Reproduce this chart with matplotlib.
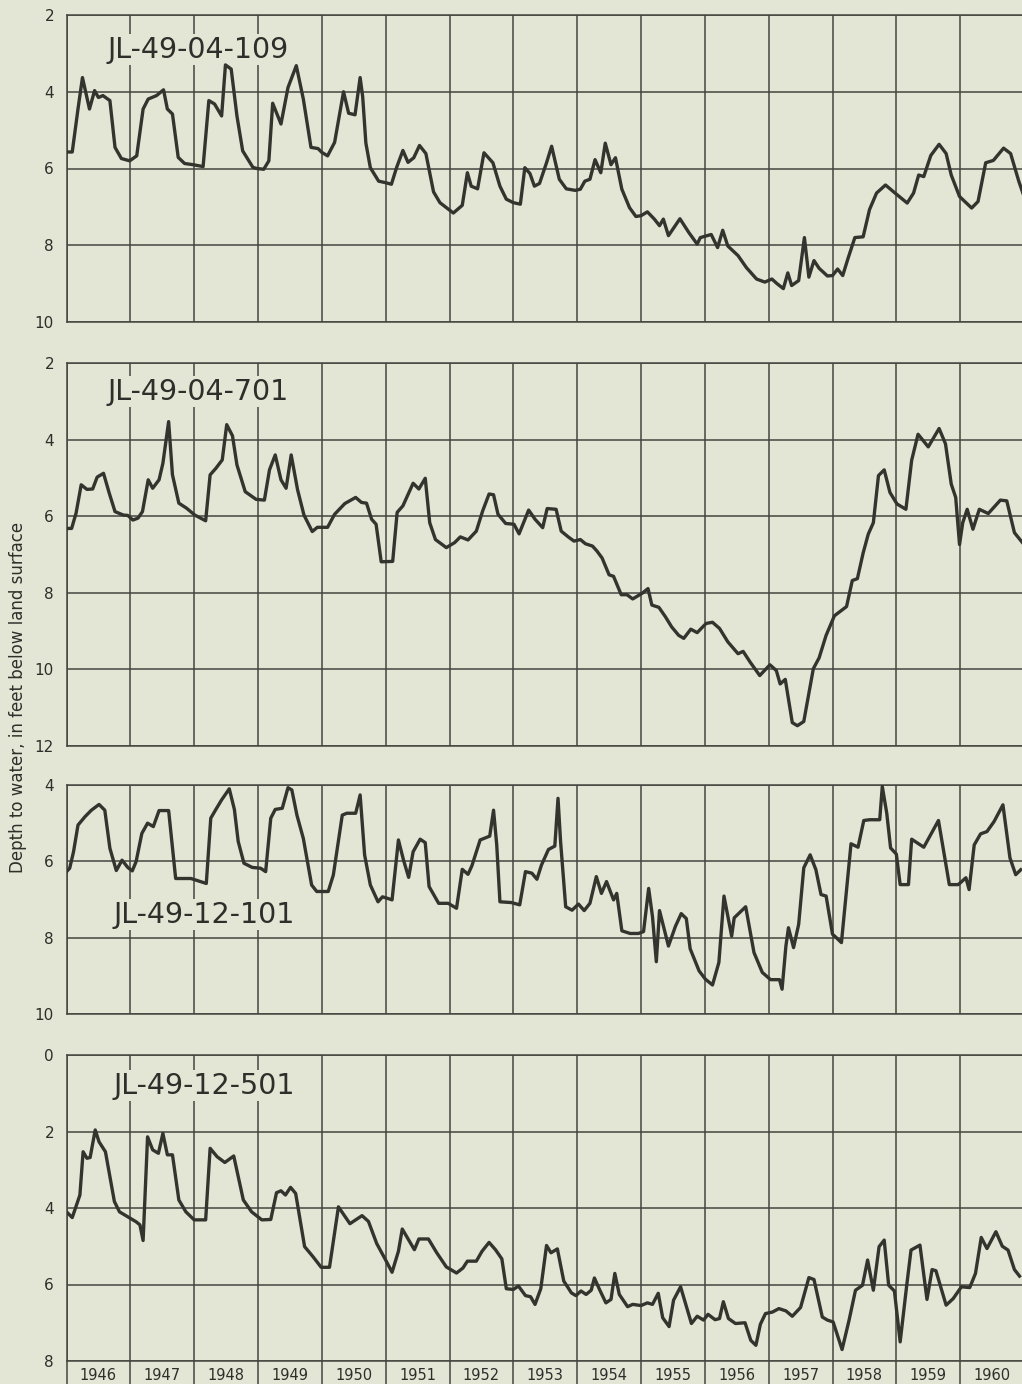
import matplotlib.pyplot as plt

# hydrographs of four observation wells, depth to water (ft) vs time
years = list(range(1946, 1961))
well_names = ["JL-49-04-109", "JL-49-04-701", "JL-49-12-101", "JL-49-12-501"]

t_109 = [1946.00, 1946.09, 1946.18, 1946.25, 1946.36, 1946.44, 1946.50, 1946.57, 1946.68, 1946.76,
         1946.86, 1946.99, 1947.10, 1947.20, 1947.28, 1947.41, 1947.52, 1947.58, 1947.66, 1947.75,
         1947.85, 1947.98, 1948.14, 1948.23, 1948.32, 1948.43, 1948.49, 1948.58, 1948.67, 1948.76,
         1948.92, 1948.98, 1949.09, 1949.17, 1949.23, 1949.36, 1949.47, 1949.60, 1949.71, 1949.83,
         1949.94, 1950.00, 1950.09, 1950.20, 1950.34, 1950.42, 1950.52, 1950.60, 1950.64, 1950.69,
         1950.76, 1950.89, 1951.00, 1951.09, 1951.17, 1951.27, 1951.35, 1951.44, 1951.53, 1951.63,
         1951.75, 1951.85, 1951.95, 1952.06, 1952.20, 1952.28, 1952.34, 1952.44, 1952.54, 1952.68,
         1952.79, 1952.89, 1953.00, 1953.11, 1953.18, 1953.26, 1953.33, 1953.41, 1953.52, 1953.60,
         1953.72, 1953.83, 1953.97, 1954.05, 1954.12, 1954.20, 1954.28, 1954.37, 1954.44, 1954.53,
         1954.60, 1954.70, 1954.82, 1954.92, 1955.00, 1955.10, 1955.21, 1955.29, 1955.35, 1955.43,
         1955.61, 1955.75, 1955.88, 1955.93, 1956.10, 1956.20, 1956.28, 1956.36, 1956.52, 1956.65,
         1956.81, 1956.94, 1957.05, 1957.13, 1957.23, 1957.30, 1957.36, 1957.47, 1957.56, 1957.63,
         1957.71, 1957.79, 1957.92, 1958.00, 1958.08, 1958.16, 1958.24, 1958.35, 1958.48, 1958.58,
         1958.69, 1958.83, 1958.98, 1959.17, 1959.27, 1959.35, 1959.43, 1959.54, 1959.67, 1959.78,
         1959.86, 1959.99, 1960.18, 1960.28, 1960.40, 1960.52, 1960.68, 1960.79, 1960.92, 1961.02]
d_109 = [5.57, 5.57, 4.45, 3.63, 4.45, 3.97, 4.15, 4.10, 4.23, 5.45,
         5.74, 5.80, 5.67, 4.45, 4.19, 4.10, 3.95, 4.45, 4.58, 5.71,
         5.87, 5.90, 5.95, 4.23, 4.32, 4.63, 3.30, 3.41, 4.63, 5.54,
         5.97, 6.00, 6.02, 5.80, 4.30, 4.84, 3.89, 3.32, 4.19, 5.45,
         5.48, 5.58, 5.67, 5.32, 4.00, 4.56, 4.60, 3.63, 4.13, 5.34,
         5.98, 6.33, 6.37, 6.41, 5.98, 5.53, 5.84, 5.72, 5.40, 5.61,
         6.61, 6.89, 7.02, 7.16, 6.96, 6.11, 6.46, 6.53, 5.59, 5.85,
         6.46, 6.80, 6.89, 6.93, 5.98, 6.13, 6.46, 6.39, 5.85, 5.42,
         6.28, 6.53, 6.57, 6.54, 6.33, 6.28, 5.77, 6.11, 5.34, 5.90,
         5.72, 6.54, 7.02, 7.25, 7.23, 7.13, 7.32, 7.49, 7.32, 7.75,
         7.31, 7.67, 7.97, 7.80, 7.72, 8.06, 7.61, 8.02, 8.27, 8.58,
         8.88, 8.96, 8.88, 9.00, 9.13, 8.72, 9.05, 8.92, 7.80, 8.83,
         8.40, 8.60, 8.80, 8.79, 8.62, 8.79, 8.36, 7.80, 7.78, 7.07,
         6.64, 6.43, 6.64, 6.90, 6.64, 6.17, 6.21, 5.66, 5.37, 5.61,
         6.17, 6.73, 7.03, 6.86, 5.85, 5.79, 5.47, 5.61, 6.34, 6.82]

t_701 = [1946.00, 1946.08, 1946.15, 1946.23, 1946.32, 1946.41, 1946.48, 1946.58, 1946.67, 1946.76,
         1946.89, 1946.96, 1947.04, 1947.12, 1947.19, 1947.28, 1947.35, 1947.45, 1947.51, 1947.60,
         1947.66, 1947.76, 1947.88, 1948.01, 1948.18, 1948.25, 1948.34, 1948.44, 1948.51, 1948.60,
         1948.67, 1948.80, 1948.97, 1949.10, 1949.18, 1949.27, 1949.36, 1949.44, 1949.52, 1949.62,
         1949.72, 1949.85, 1949.93, 1950.09, 1950.20, 1950.36, 1950.53, 1950.62, 1950.70, 1950.78,
         1950.85, 1950.93, 1951.11, 1951.18, 1951.27, 1951.43, 1951.52, 1951.62, 1951.69, 1951.78,
         1951.95, 1952.08, 1952.17, 1952.29, 1952.42, 1952.52, 1952.62, 1952.69, 1952.76, 1952.88,
         1953.01, 1953.09, 1953.24, 1953.34, 1953.46, 1953.53, 1953.67, 1953.75, 1953.86, 1953.95,
         1954.05, 1954.13, 1954.24, 1954.31, 1954.39, 1954.50, 1954.57, 1954.69, 1954.78, 1954.87,
         1955.02, 1955.11, 1955.17, 1955.28, 1955.38, 1955.48, 1955.59, 1955.67, 1955.78, 1955.88,
         1956.02, 1956.12, 1956.23, 1956.36, 1956.52, 1956.60, 1956.71, 1956.86, 1957.02, 1957.12,
         1957.18, 1957.26, 1957.37, 1957.45, 1957.55, 1957.70, 1957.79, 1957.90, 1958.03, 1958.22,
         1958.31, 1958.39, 1958.48, 1958.56, 1958.64, 1958.72, 1958.81, 1958.90, 1959.01, 1959.15,
         1959.24, 1959.34, 1959.50, 1959.67, 1959.77, 1959.86, 1959.93, 1959.99, 1960.04, 1960.11,
         1960.20, 1960.30, 1960.44, 1960.63, 1960.73, 1960.85, 1961.00]
d_701 = [6.32, 6.32, 5.92, 5.18, 5.30, 5.29, 4.98, 4.88, 5.40, 5.88,
         5.97, 5.98, 6.10, 6.05, 5.88, 5.05, 5.27, 5.05, 4.62, 3.53,
         4.92, 5.66, 5.79, 5.97, 6.12, 4.92, 4.75, 4.53, 3.61, 3.90,
         4.66, 5.36, 5.56, 5.58, 4.79, 4.40, 5.05, 5.27, 4.40, 5.31,
         5.97, 6.40, 6.29, 6.29, 5.95, 5.67, 5.51, 5.64, 5.66, 6.08,
         6.21, 7.19, 7.18, 5.90, 5.73, 5.14, 5.29, 5.01, 6.17, 6.61,
         6.82, 6.69, 6.54, 6.62, 6.39, 5.86, 5.42, 5.44, 5.95, 6.19,
         6.21, 6.46, 5.84, 6.08, 6.30, 5.80, 5.82, 6.39, 6.54, 6.65,
         6.61, 6.72, 6.78, 6.91, 7.09, 7.53, 7.57, 8.05, 8.05, 8.16,
         8.01, 7.89, 8.32, 8.38, 8.62, 8.89, 9.11, 9.19, 8.95, 9.04,
         8.80, 8.77, 8.93, 9.28, 9.59, 9.53, 9.81, 10.16, 9.88, 10.03,
         10.38, 10.26, 11.39, 11.47, 11.36, 9.98, 9.70, 9.11, 8.60, 8.36,
         7.68, 7.63, 6.96, 6.47, 6.17, 4.94, 4.79, 5.38, 5.68, 5.82,
         4.54, 3.86, 4.19, 3.71, 4.11, 5.16, 5.51, 6.74, 6.17, 5.82,
         6.34, 5.82, 5.93, 5.58, 5.60, 6.43, 6.74]

t_101 = [1946.00, 1946.05, 1946.11, 1946.18, 1946.29, 1946.39, 1946.51, 1946.60, 1946.68, 1946.78,
         1946.87, 1946.96, 1947.03, 1947.09, 1947.18, 1947.27, 1947.36, 1947.45, 1947.60, 1947.71,
         1947.95, 1948.19, 1948.26, 1948.34, 1948.43, 1948.55, 1948.63, 1948.69, 1948.78, 1948.91,
         1949.04, 1949.12, 1949.20, 1949.27, 1949.38, 1949.47, 1949.53, 1949.61, 1949.71, 1949.84,
         1949.92, 1950.10, 1950.18, 1950.32, 1950.39, 1950.53, 1950.60, 1950.67, 1950.76, 1950.88,
         1950.95, 1951.03, 1951.10, 1951.20, 1951.28, 1951.36, 1951.43, 1951.54, 1951.62, 1951.68,
         1951.83, 1951.98, 1952.11, 1952.20, 1952.29, 1952.35, 1952.48, 1952.63, 1952.69, 1952.74,
         1952.79, 1952.97, 1953.10, 1953.19, 1953.29, 1953.37, 1953.44, 1953.55, 1953.65, 1953.70,
         1953.74, 1953.82, 1953.92, 1954.02, 1954.11, 1954.20, 1954.30, 1954.38, 1954.46, 1954.57,
         1954.62, 1954.70, 1954.83, 1954.96, 1955.04, 1955.12, 1955.18, 1955.24, 1955.29, 1955.43,
         1955.54, 1955.63, 1955.71, 1955.77, 1955.91, 1956.01, 1956.12, 1956.22, 1956.30, 1956.37,
         1956.42, 1956.46, 1956.64, 1956.77, 1956.90, 1957.03, 1957.17, 1957.21, 1957.27, 1957.31,
         1957.39, 1957.47, 1957.55, 1957.65, 1957.74, 1957.82, 1957.90, 1958.00, 1958.06, 1958.14,
         1958.29, 1958.40, 1958.49, 1958.58, 1958.74, 1958.78, 1958.85, 1958.91, 1959.00, 1959.06,
         1959.19, 1959.24, 1959.43, 1959.66, 1959.83, 1959.97, 1960.09, 1960.14, 1960.22, 1960.32,
         1960.42, 1960.53, 1960.67, 1960.78, 1960.87, 1960.95]
d_101 = [6.27, 6.18, 5.75, 5.05, 4.83, 4.66, 4.51, 4.66, 5.66, 6.24,
         5.97, 6.16, 6.25, 6.01, 5.27, 5.00, 5.09, 4.67, 4.67, 6.45,
         6.45, 6.58, 4.87, 4.64, 4.39, 4.10, 4.64, 5.48, 6.05, 6.16,
         6.18, 6.27, 4.87, 4.64, 4.61, 4.07, 4.13, 4.79, 5.40, 6.62,
         6.79, 6.79, 6.36, 4.79, 4.74, 4.74, 4.26, 5.83, 6.62, 7.06,
         6.93, 6.97, 7.01, 5.44, 5.97, 6.42, 5.75, 5.42, 5.51, 6.66,
         7.10, 7.10, 7.23, 6.21, 6.34, 6.12, 5.44, 5.34, 4.66, 5.57,
         7.06, 7.08, 7.14, 6.27, 6.31, 6.47, 6.10, 5.69, 5.60, 4.35,
         5.48, 7.19, 7.28, 7.12, 7.29, 7.10, 6.40, 6.84, 6.53, 7.01,
         6.84, 7.82, 7.89, 7.89, 7.84, 6.71, 7.45, 8.63, 7.29, 8.22,
         7.70, 7.37, 7.50, 8.29, 8.87, 9.09, 9.24, 8.65, 6.91, 7.52,
         7.96, 7.48, 7.19, 8.39, 8.91, 9.10, 9.10, 9.35, 8.22, 7.74,
         8.26, 7.65, 6.17, 5.83, 6.22, 6.87, 6.91, 7.91, 8.00, 8.13,
         5.54, 5.63, 4.93, 4.91, 4.91, 4.04, 4.74, 5.65, 5.81, 6.61,
         6.61, 5.42, 5.63, 4.93, 6.61, 6.61, 6.43, 6.74, 5.57, 5.28,
         5.22, 4.96, 4.52, 5.91, 6.35, 6.22]

t_501 = [1946.00, 1946.09, 1946.21, 1946.26, 1946.32, 1946.37, 1946.45, 1946.51, 1946.61, 1946.75,
         1946.83, 1946.96, 1947.09, 1947.15, 1947.20, 1947.27, 1947.35, 1947.44, 1947.51, 1947.58,
         1947.66, 1947.76, 1947.87, 1948.00, 1948.18, 1948.25, 1948.36, 1948.48, 1948.62, 1948.77,
         1948.90, 1949.06, 1949.20, 1949.29, 1949.36, 1949.43, 1949.51, 1949.59, 1949.73, 1949.86,
         1949.99, 1950.12, 1950.26, 1950.44, 1950.63, 1950.73, 1950.86, 1950.99, 1951.10, 1951.20,
         1951.26, 1951.45, 1951.52, 1951.67, 1951.80, 1951.95, 1952.11, 1952.21, 1952.28, 1952.42,
         1952.51, 1952.62, 1952.72, 1952.82, 1952.89, 1953.00, 1953.08, 1953.19, 1953.27, 1953.34,
         1953.43, 1953.52, 1953.59, 1953.69, 1953.79, 1953.91, 1953.98, 1954.06, 1954.14, 1954.22,
         1954.27, 1954.35, 1954.45, 1954.53, 1954.59, 1954.66, 1954.79, 1954.87, 1955.00, 1955.10,
         1955.18, 1955.27, 1955.34, 1955.44, 1955.51, 1955.62, 1955.79, 1955.88, 1955.98, 1956.05,
         1956.16, 1956.23, 1956.29, 1956.37, 1956.48, 1956.63, 1956.72, 1956.80, 1956.87, 1956.95,
         1957.06, 1957.16, 1957.27, 1957.37, 1957.50, 1957.63, 1957.71, 1957.84, 1957.92, 1958.01,
         1958.15, 1958.26, 1958.36, 1958.47, 1958.55, 1958.64, 1958.73, 1958.81, 1958.88, 1958.97,
         1959.06, 1959.16, 1959.23, 1959.37, 1959.48, 1959.56, 1959.62, 1959.78, 1959.89, 1960.02,
         1960.15, 1960.24, 1960.33, 1960.42, 1960.56, 1960.66, 1960.75, 1960.85, 1960.93]
d_501 = [4.10, 4.25, 3.66, 2.53, 2.70, 2.68, 1.96, 2.27, 2.53, 3.83,
         4.10, 4.23, 4.36, 4.44, 4.85, 2.14, 2.48, 2.57, 2.05, 2.61,
         2.61, 3.79, 4.10, 4.31, 4.31, 2.44, 2.66, 2.81, 2.64, 3.79,
         4.10, 4.31, 4.30, 3.60, 3.55, 3.66, 3.46, 3.62, 5.01, 5.27,
         5.55, 5.55, 3.97, 4.41, 4.20, 4.35, 4.93, 5.33, 5.68, 5.13,
         4.55, 5.09, 4.81, 4.81, 5.17, 5.54, 5.70, 5.57, 5.39, 5.39,
         5.13, 4.90, 5.09, 5.33, 6.11, 6.13, 6.04, 6.29, 6.32, 6.52,
         6.11, 4.98, 5.17, 5.07, 5.91, 6.22, 6.29, 6.17, 6.26, 6.15,
         5.83, 6.13, 6.48, 6.39, 5.71, 6.26, 6.58, 6.52, 6.55, 6.48,
         6.52, 6.23, 6.87, 7.10, 6.41, 6.06, 7.02, 6.83, 6.93, 6.78,
         6.92, 6.89, 6.45, 6.89, 7.02, 7.00, 7.46, 7.59, 7.04, 6.76,
         6.72, 6.63, 6.69, 6.83, 6.60, 5.82, 5.87, 6.85, 6.93, 6.98,
         7.70, 6.93, 6.15, 6.02, 5.36, 6.15, 5.01, 4.84, 6.02, 6.17,
         7.50, 6.06, 5.10, 4.97, 6.39, 5.61, 5.64, 6.54, 6.37, 6.06,
         6.08, 5.71, 4.77, 5.06, 4.62, 5.00, 5.10, 5.61, 5.78]

series = [(t_109, d_109), (t_701, d_701), (t_101, d_101), (t_501, d_501)]
depth_ranges = [(2, 10), (2, 12), (4, 10), (0, 8)]
label_spots = [(1946.65, 2.9), (1946.65, 2.75), (1946.74, 7.4), (1946.74, 0.8)]

BG = "#e3e5d5"
INK = "#34342f"
GRID = "#45453f"
W, H = 1022, 1384

# panel frames in pixels (top, bottom) of the 1022x1384 page
frames = [(15, 322), (363, 746), (785, 1014), (1055, 1361)]
left_px, right_px = 66.5, 1024

fig = plt.figure(figsize=(W / 100, H / 100), dpi=100)
fig.patch.set_facecolor(BG)

for i, (top, bottom) in enumerate(frames):
    ax = fig.add_axes([left_px / W, 1 - bottom / H, (right_px - left_px) / W, (bottom - top) / H])
    ax.set_facecolor(BG)
    t, d = series[i]
    ax.plot(t, d, color=INK, lw=2.4, solid_joinstyle="round", zorder=4)

    lo, hi = depth_ranges[i]
    ax.set_xlim(1946, 1961)
    ax.set_ylim(hi, lo)
    ax.set_xticks(years + [1961])
    ax.set_yticks(list(range(lo, hi + 1, 2)))
    ax.grid(True, color=GRID, lw=1.1)
    for side, sp in ax.spines.items():
        sp.set_color(GRID)
        sp.set_linewidth(1.1)
    ax.spines["right"].set_visible(False)
    ax.tick_params(axis="y", length=0, pad=9, labelsize=11, labelcolor="#2e2e2a")
    ax.tick_params(axis="x", length=0, labelbottom=False)

    lx, ly = label_spots[i]
    ax.text(lx, ly, well_names[i], fontsize=20.5, color="#2e2e2a", ha="left", va="center",
            zorder=3, bbox=dict(facecolor=BG, edgecolor="none", pad=1))

    if i == len(frames) - 1:
        # year boxes under the last panel
        ax.tick_params(axis="x", which="major", length=17, width=1.1, color=GRID,
                       direction="out", labelbottom=False)
        ax.set_xticks([y + 0.5 for y in years], minor=True)
        ax.set_xticklabels([str(y) for y in years], minor=True)
        ax.tick_params(axis="x", which="minor", length=0, pad=5, labelsize=10.5,
                       labelcolor="#2e2e2a")

fig.text(18 / W, 1 - 697 / H, "Depth to water, in feet below land surface", rotation=90,
         ha="center", va="center", fontsize=12, color="#2e2e2a")

fig.savefig("out.png", dpi=100, facecolor=BG)
